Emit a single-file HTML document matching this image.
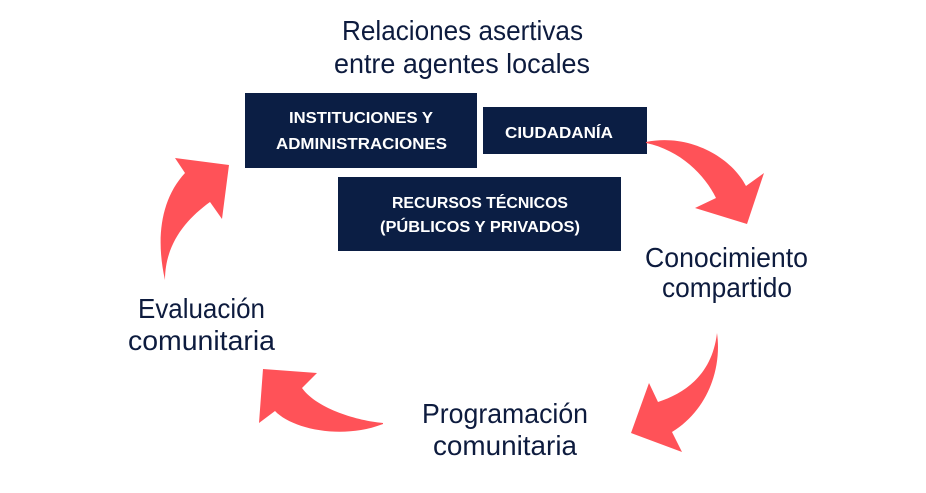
<!DOCTYPE html>
<html>
<head>
<meta charset="utf-8">
<style>
  html,body{margin:0;padding:0;background:#ffffff;}
  body{width:926px;height:493px;overflow:hidden;}
  svg{display:block;}
  .t{font-family:"Liberation Sans",sans-serif;fill:#0d1b3e;font-size:28px;}
  .b{font-family:"Liberation Sans",sans-serif;fill:#ffffff;font-size:15.5px;font-weight:bold;}
</style>
</head>
<body>
<svg width="926" height="493" viewBox="0 0 926 493" xmlns="http://www.w3.org/2000/svg">
  <rect x="0" y="0" width="926" height="493" fill="#ffffff"/>

  <!-- Title -->
  <text class="t" x="342" y="40" textLength="241" lengthAdjust="spacingAndGlyphs">Relaciones asertivas</text>
  <text class="t" x="334" y="73" textLength="256" lengthAdjust="spacingAndGlyphs">entre agentes locales</text>

  <!-- Boxes -->
  <rect x="245" y="93" width="232" height="75" fill="#0b1e44"/>
  <rect x="483" y="107" width="164" height="47" fill="#0b1e44"/>
  <rect x="338" y="177" width="283" height="74" fill="#0b1e44"/>

  <text class="b" x="289" y="123" textLength="144" lengthAdjust="spacingAndGlyphs">INSTITUCIONES Y</text>
  <text class="b" x="276" y="149" textLength="171" lengthAdjust="spacingAndGlyphs">ADMINISTRACIONES</text>
  <text class="b" x="505" y="138" textLength="108" lengthAdjust="spacingAndGlyphs">CIUDADANÍA</text>
  <text class="b" x="392" y="208" textLength="176" lengthAdjust="spacingAndGlyphs">RECURSOS TÉCNICOS</text>
  <text class="b" x="380" y="232" textLength="200" lengthAdjust="spacingAndGlyphs">(PÚBLICOS Y PRIVADOS)</text>

  <!-- Arrows -->
  <g fill="#ff5258">
    <path d="M646,142 C690,133 732,158 746,186 L764,173 L747,224 L695,208 L716,198 C705,175 680,150 646,143 Z"/>
    <path d="M717,333 C722,368 708,410 672,432 L682,452 L631,433 L649,383 L658,402 C685,393 712,375 717,333 Z"/>
    <path d="M383,423 C360,421 318,410 302,388 L317,373 L263,369 L259,423 L275,411 C292,429 342,440 383,424 Z"/>
    <path d="M165,280 C156,240 160,200 185,173 L175,158 L229,165 L222,219 L210,202 C185,220 165,245 165,280 Z"/>
  </g>

  <!-- Cycle labels -->
  <text class="t" x="645" y="267" textLength="163" lengthAdjust="spacingAndGlyphs">Conocimiento</text>
  <text class="t" x="662" y="297" textLength="130" lengthAdjust="spacingAndGlyphs">compartido</text>

  <text class="t" x="422" y="423" textLength="166" lengthAdjust="spacingAndGlyphs">Programación</text>
  <text class="t" x="433" y="455" textLength="144" lengthAdjust="spacingAndGlyphs">comunitaria</text>

  <text class="t" x="138" y="318" textLength="127" lengthAdjust="spacingAndGlyphs">Evaluación</text>
  <text class="t" x="128" y="350" textLength="147" lengthAdjust="spacingAndGlyphs">comunitaria</text>
</svg>
</body>
</html>
